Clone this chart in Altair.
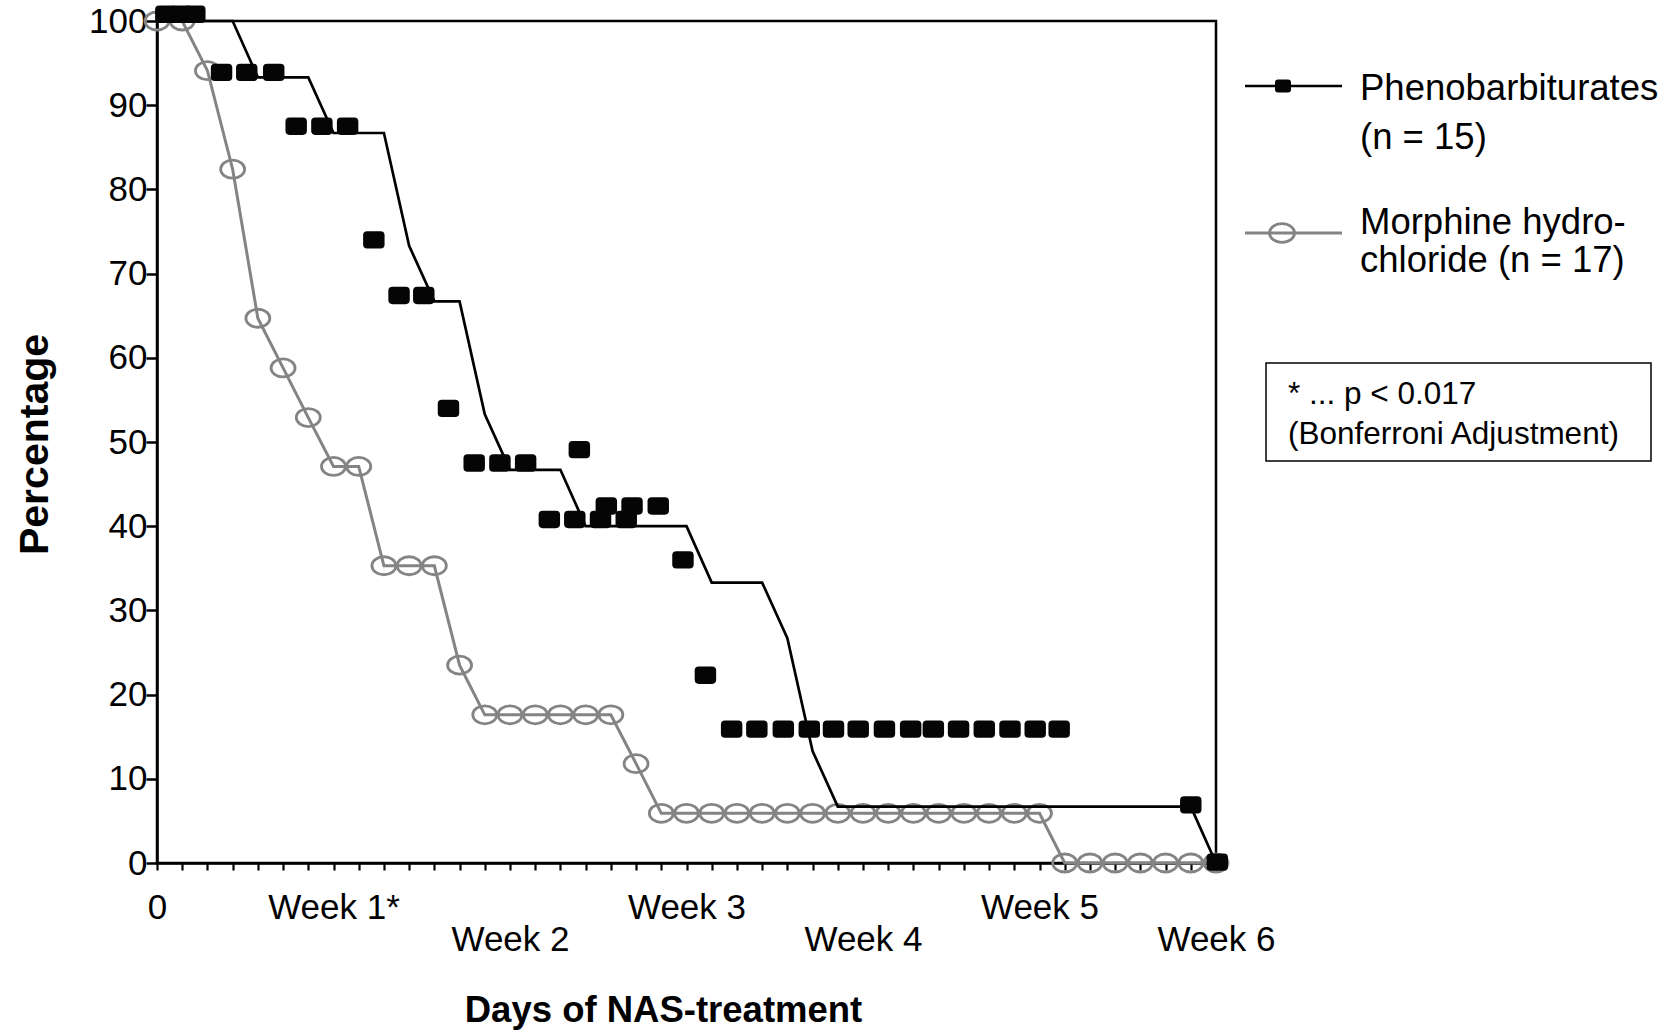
import altair as alt
import pandas as pd

FONT = "Liberation Sans"

# ---- data ----
morph_days = [0, 1, 2, 3, 4, 5, 6, 7, 8, 9, 10, 11, 12, 13, 14, 15, 16, 17, 18, 19,
              20, 21, 22, 23, 24, 25, 26, 27, 28, 29, 30, 31, 32, 33, 34, 35,
              36, 37, 38, 39, 40, 41, 42]
morph_pct = [100, 100, 94.1, 82.4, 64.7, 58.8, 52.9, 47.1, 47.1, 35.3, 35.3, 35.3, 23.5,
             17.6, 17.6, 17.6, 17.6, 17.6, 17.6, 11.8,
             5.9, 5.9, 5.9, 5.9, 5.9, 5.9, 5.9, 5.9, 5.9, 5.9, 5.9, 5.9, 5.9, 5.9, 5.9, 5.9,
             0, 0, 0, 0, 0, 0, 0]

pheno_line_days = [0, 3, 4, 6, 7, 9, 10, 11, 12, 13, 14, 16, 17, 21, 22, 24, 25, 26, 27, 41, 42]
pheno_line_pct = [100, 100, 93.3, 93.3, 86.7, 86.7, 73.3, 66.7, 66.7, 53.3, 46.7, 46.7,
                  40, 40, 33.3, 33.3, 26.7, 13.3, 6.7, 6.7, 0]

pheno_mark_days = [0.35, 0.95, 1.5, 2.56, 3.56, 4.63, 5.52, 6.54, 7.56, 8.6, 9.6, 10.58,
                   11.56, 12.58, 13.6, 14.62, 15.56, 16.57, 17.59, 18.61, 16.75,
                   17.82, 18.84, 19.88, 20.86, 21.75,
                   22.79, 23.79, 24.84, 25.87, 26.83, 27.81, 28.85, 29.89, 30.79, 31.79,
                   32.81, 33.83, 34.83, 35.78, 41.0, 42.05]
pheno_mark_pct = [100.8, 100.8, 100.8, 93.9, 93.9, 93.9, 87.5, 87.5, 87.5, 74.0, 67.4, 67.4,
                  54.0, 47.5, 47.5, 47.5, 40.8, 40.8, 40.8, 40.8, 49.1,
                  42.4, 42.4, 42.4, 36.0, 22.3,
                  15.9, 15.9, 15.9, 15.9, 15.9, 15.9, 15.9, 15.9, 15.9, 15.9,
                  15.9, 15.9, 15.9, 15.9, 6.9, 0.1]

x_tick_days = [0, 1, 2, 3, 4, 5, 6, 7, 8, 9, 10, 11, 12, 13, 14, 15, 16, 17, 18, 19, 20,
               21, 22, 23, 24, 25, 26, 27, 28, 29, 30, 31, 32, 33, 34, 35, 36, 37, 38, 39,
               40, 41, 42]
week_labels = ["0", "Week 1*", "Week 2", "Week 3", "Week 4", "Week 5", "Week 6"]
y_ticks = [0, 10, 20, 30, 40, 50, 60, 70, 80, 90, 100]

legend_labels = ["Phenobarbiturates\n(n = 15)", "Morphine hydro-\nchloride (n = 17)"]
note_text = ["* ... p < 0.017\n(Bonferroni Adjustment)"]

GRAY = "#848484"
RECT_PATH = ("M-0.62,-0.81H0.62Q1,-0.81,1,-0.43V0.43Q1,0.81,0.62,0.81H-0.62"
             "Q-1,0.81,-1,0.43V-0.43Q-1,-0.81,-0.62,-0.81Z")
ELLIPSE_PATH = "M-1,0A1,0.75,0,1,1,1,0A1,0.75,0,1,1,-1,0Z"

morph_df = pd.DataFrame({"day": morph_days, "pct": morph_pct})
pheno_line_df = pd.DataFrame({"day": pheno_line_days, "pct": pheno_line_pct})
pheno_mark_df = pd.DataFrame({"day": pheno_mark_days, "pct": pheno_mark_pct})

label_arr = "[" + ",".join("'" + s + "'" for s in week_labels) + "]"
x_axis = alt.Axis(
    title="Days of NAS-treatment",
    values=x_tick_days,
    labelExpr=f"datum.value % 7 == 0 ? {label_arr}[datum.value / 7] : ''",
    labelPadding={"condition": {"test": "datum.value % 14 == 0 && datum.value > 0", "value": 52},
                  "value": 20},
    labelOverlap=False, labelFlush=False, labelBound=False,
    labelFontSize=35, labelFont=FONT, labelColor="black",
    tickSize=7, tickWidth=2.2, tickColor="black",
    domainColor="black", domainWidth=2.5, grid=False,
    titleFontSize=36.5, titleFont=FONT, titleFontWeight="bold", titleColor="black",
    titleX=506, titleY=158, titleAlign="center", titleBaseline="alphabetic",
)
y_axis = alt.Axis(
    title="Percentage",
    values=y_ticks,
    labelFontSize=35, labelFont=FONT, labelColor="black", labelPadding=-1,
    tickSize=11, tickWidth=2.5, tickColor="black",
    domainColor="black", domainWidth=2.5, grid=False,
    titleFontSize=41, titleFont=FONT, titleFontWeight="bold", titleColor="black",
    titleX=-110, titleY=423, titleAngle=270, titleAlign="center", titleBaseline="alphabetic",
)
x_enc = alt.X("day:Q", scale=alt.Scale(domain=[0, 42], nice=False, zero=False), axis=x_axis)
y_enc = alt.Y("pct:Q", scale=alt.Scale(domain=[0, 100], nice=False), axis=y_axis)

morph_line = alt.Chart(morph_df).mark_line(color=GRAY, strokeWidth=3).encode(x=x_enc, y=y_enc)
morph_pts = alt.Chart(morph_df).mark_point(
    shape=ELLIPSE_PATH, size=576, filled=False, color=GRAY, strokeWidth=2.8, opacity=1
).encode(x=x_enc, y=y_enc)
pheno_line = alt.Chart(pheno_line_df).mark_line(color="black", strokeWidth=2.7).encode(x=x_enc, y=y_enc)
pheno_pts = alt.Chart(pheno_mark_df).mark_point(
    shape=RECT_PATH, size=460, filled=True, color="#050505", opacity=1
).encode(x=x_enc, y=y_enc)

# ---- legend (drawn beside the plot) ----
leg_df = pd.DataFrame({"t": legend_labels})
leg_line1 = alt.Chart(leg_df.iloc[[0]]).mark_rule(color="black", strokeWidth=2.7).encode(
    x=alt.value(1088), x2=alt.value(1185), y=alt.value(65))
leg_pt1 = alt.Chart(leg_df.iloc[[0]]).mark_point(
    shape=RECT_PATH, size=256, filled=True, color="#050505", opacity=1
).encode(x=alt.value(1126), y=alt.value(65))
leg_txt1 = alt.Chart(leg_df.iloc[[0]]).mark_text(
    align="left", baseline="alphabetic", fontSize=36.5, font=FONT, lineBreak="\n", lineHeight=49,
    color="black").encode(text="t:N", x=alt.value(1203), y=alt.value(79))
leg_line2 = alt.Chart(leg_df.iloc[[1]]).mark_rule(color=GRAY, strokeWidth=3).encode(
    x=alt.value(1088), x2=alt.value(1185), y=alt.value(212))
leg_pt2 = alt.Chart(leg_df.iloc[[1]]).mark_point(
    shape=ELLIPSE_PATH, size=625, filled=False, color=GRAY, strokeWidth=2.8, opacity=1
).encode(x=alt.value(1125), y=alt.value(212))
leg_txt2 = alt.Chart(leg_df.iloc[[1]]).mark_text(
    align="left", baseline="alphabetic", fontSize=36.5, font=FONT, lineBreak="\n", lineHeight=38,
    color="black").encode(text="t:N", x=alt.value(1203), y=alt.value(213))

note_df = pd.DataFrame({"t": note_text})
note_box = alt.Chart(note_df).mark_rect(fill="white", stroke="black", strokeWidth=1.5).encode(
    x=alt.value(1109), x2=alt.value(1494), y=alt.value(342), y2=alt.value(440))
note_txt = alt.Chart(note_df).mark_text(
    align="left", baseline="alphabetic", fontSize=31.5, font=FONT, lineBreak="\n", lineHeight=40,
    color="black").encode(text="t:N", x=alt.value(1131), y=alt.value(383))

chart = alt.layer(
    morph_line, morph_pts, pheno_line, pheno_pts,
    leg_line1, leg_pt1, leg_txt1, leg_line2, leg_pt2, leg_txt2, note_box, note_txt,
).properties(
    width=1059, height=842,
    autosize=alt.AutoSizeParams(type="none"),
    padding={"left": 157, "top": 21, "right": 461, "bottom": 169},
    background="white",
).configure_view(stroke="black", strokeWidth=2.5)

chart.save("out.html", embed_options={"renderer": "svg", "actions": False})
